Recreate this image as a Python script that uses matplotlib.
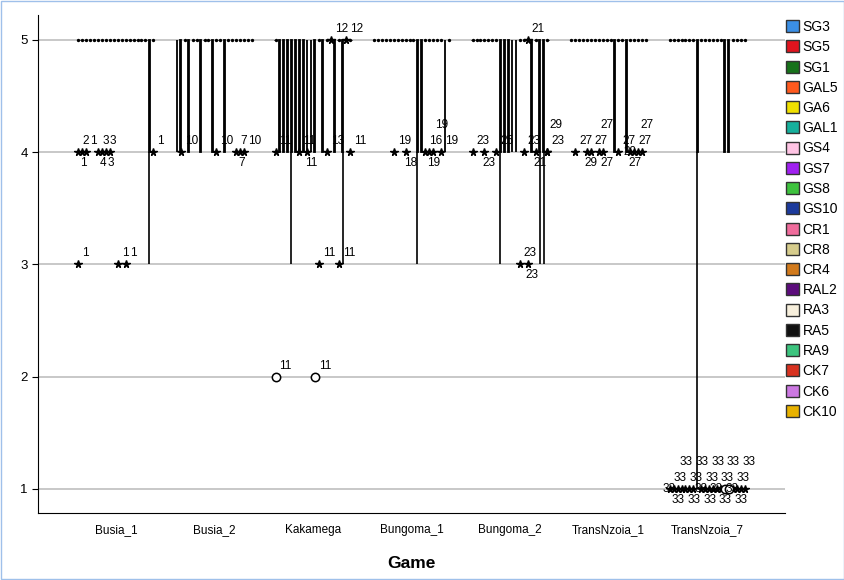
import matplotlib.pyplot as plt
from matplotlib.patches import Rectangle, Patch

plt.rcParams["font.family"] = ["Liberation Sans", "DejaVu Sans"]

# categories and series
games = ["Busia_1", "Busia_2", "Kakamega", "Bungoma_1", "Bungoma_2",
         "TransNzoia_1", "TransNzoia_7"]
series_names = ["SG3", "SG5", "SG1", "GAL5", "GA6", "GAL1", "GS4", "GS7", "GS8",
                "GS10", "CR1", "CR8", "CR4", "RAL2", "RA3", "RA5", "RA9", "CK7",
                "CK6", "CK10"]
series_colors = ["#3b8fe5", "#e0141e", "#17721a", "#ff5a1e", "#f0e000", "#16b09c",
                 "#ffc4e4", "#a020f0", "#3ec23e", "#1c3a9c", "#f06c9c", "#d6cc8c",
                 "#d27a1c", "#5c0c7c", "#f7efdc", "#111111", "#3cc47e", "#d83220",
                 "#cc78e2", "#e8b200"]

# series (index) per game whose box runs from 4 to 5; all others sit at 5
box_q1 = 4
box_q3 = 5
box_slots = [
    [18],
    [0, 1, 3, 6, 9, 12],
    [1, 2, 3, 4, 5, 6, 7, 8, 9, 10, 12, 15, 17],
    [11, 12, 18],
    [7, 8, 9, 10, 11, 15, 17, 18],
    [11, 14],
    [7, 14, 15],
]
whisker_low = [
    [3],
    [4, 4, 4, 4, 4, 4],
    [4, 4, 4, 3, 4, 4, 4, 4, 4, 4, 4, 4, 3],
    [3, 4, 4],
    [3, 4, 4, 4, 4, 4, 3, 3],
    [4, 4],
    [1, 4, 4],
]

# extreme outliers (stars): (series index, value, case label)
extreme_outliers = [
    [(0, 4, "2"), (1, 4, "1"), (2, 4, "1"), (5, 4, "3"), (6, 4, "4"), (7, 4, "3"),
     (8, 4, "3"), (19, 4, "1"), (0, 3, "1"), (10, 3, "1"), (12, 3, "1")],
    [(1, 4, "10"), (10, 4, "10"), (15, 4, "7"), (16, 4, "7"), (17, 4, "10")],
    [(0, 4, "11"), (6, 4, "11"), (8, 4, "11"), (13, 4, "13"), (19, 4, "11"),
     (14, 5, "12"), (18, 5, "12"), (11, 3, "11"), (16, 3, "11")],
    [(5, 4, "19"), (8, 4, "18"), (13, 4, "16"), (14, 4, "19"), (15, 4, "19"),
     (17, 4, "19")],
    [(0, 4, "23"), (3, 4, "23"), (6, 4, "25"), (13, 4, "23"), (16, 4, "21"),
     (19, 4, "23"), (19, 4, "29"), (14, 5, "21"), (12, 3, "23"), (14, 3, "23")],
    [(1, 4, "27"), (4, 4, "29"), (5, 4, "27"), (7, 4, "27"), (8, 4, "27"),
     (12, 4, "27"), (15, 4, "27"), (16, 4, "27"), (17, 4, "27"), (18, 4, "29")],
    [(s, 1, "33") for s in [0, 1, 2, 3, 4, 5, 6, 8, 9, 10, 11, 12, 13, 16, 17, 18, 19]],
]

# mild outliers (circles)
mild_outliers = [
    [], [],
    [(0, 2, "11"), (10, 2, "11")],
    [], [], [],
    [(14, 1, "33"), (15, 1, "33")],
]

n_series = len(series_names)
cluster_w = 0.8
slot_w = cluster_w / n_series
box_w = 0.009
px_per_unit = 98.5


def slot_x(g, s):
    return g - cluster_w / 2 + slot_w * (s + 0.5)


fig = plt.figure(figsize=(8.45, 5.8), dpi=100)
ax = fig.add_axes([38 / 845, 1 - 513 / 580, 747 / 845, 498 / 580])

for v in [1, 2, 3, 4, 5]:
    ax.axhline(v, color="#c8c8c8", lw=1.4, zorder=0)

for g in range(len(games)):
    boxed = dict(zip(box_slots[g], whisker_low[g]))
    for s in range(n_series):
        x = slot_x(g, s)
        if s in boxed:
            ax.vlines(x, boxed[s], box_q1, color="black", lw=1.2, zorder=2)
            ax.add_patch(Rectangle((x - box_w / 2, box_q1), box_w, box_q3 - box_q1,
                                   facecolor=series_colors[s], edgecolor="black",
                                   lw=1.3, zorder=3))
        else:
            ax.hlines(5, x - 0.012, x + 0.012, color="black", lw=0.7, zorder=3)
            ax.plot(x, 5, marker="o", ms=1.4, color="black", zorder=3)

    pts = [(slot_x(g, s), v, lab, "*") for s, v, lab in extreme_outliers[g]]
    pts += [(slot_x(g, s), v, lab, "o") for s, v, lab in mild_outliers[g]]
    for x, v, lab, mk in pts:
        if mk == "*":
            ax.plot(x, v, marker="*", ms=5.5, color="black", zorder=4)
        else:
            ax.plot(x, v, marker="o", ms=6, mfc="white", mec="black", mew=1.1, zorder=4)

    # greedy label placement, like the overlapping case numbers in SPSS
    levels = [(4, 5, "left", "bottom"), (-2, -5, "left", "top"),
              (2, 21, "left", "bottom"), (-6, 0, "right", "center")]
    for v in sorted(set(p[1] for p in pts)):
        group = sorted([p for p in pts if p[1] == v], key=lambda p: p[0])
        last_end = [-1e9] * len(levels)
        for x, _, lab, _ in group:
            xp = x * px_per_unit
            w = 6.2 * len(lab)
            chosen = 0
            for i, (dx, dy, ha, va) in enumerate(levels):
                start = xp + dx if ha == "left" else xp + dx - w
                if start > last_end[i] + 0.5:
                    chosen = i
                    break
            dx, dy, ha, va = levels[chosen]
            start = xp + dx if ha == "left" else xp + dx - w
            last_end[chosen] = start + w
            ax.annotate(lab, (x, v), xytext=(dx, dy), textcoords="offset pixels",
                        ha=ha, va=va, fontsize=8.5, zorder=5)

ax.set_xlim(-0.79, 6.79)
ax.set_ylim(0.786, 5.22)
ax.set_xticks(range(len(games)))
ax.set_xticklabels(games, fontsize=8.5)
ax.tick_params(axis="x", length=0, pad=8)
ax.set_yticks([1, 2, 3, 4, 5])
ax.tick_params(axis="y", labelsize=9.5, length=4)
ax.spines["top"].set_visible(False)
ax.spines["right"].set_visible(False)
ax.set_xlabel("Game", fontsize=12.5, fontweight="bold", labelpad=14)

handles = [Patch(facecolor=c, edgecolor="#333333", lw=1) for c in series_colors]
fig.legend(handles, series_names, loc="upper left",
           bbox_to_anchor=(786 / 845, 1 - 20 / 580), frameon=False, fontsize=10,
           handlelength=0.95, handleheight=0.95, handletextpad=0.25,
           labelspacing=0.45, borderaxespad=0, borderpad=0)

fig.patches.append(Rectangle((0.0008, 0.001), 0.998, 0.997, transform=fig.transFigure,
                             fill=False, edgecolor="#9fc0ea", lw=1))

fig.savefig("out.png", dpi=100)
